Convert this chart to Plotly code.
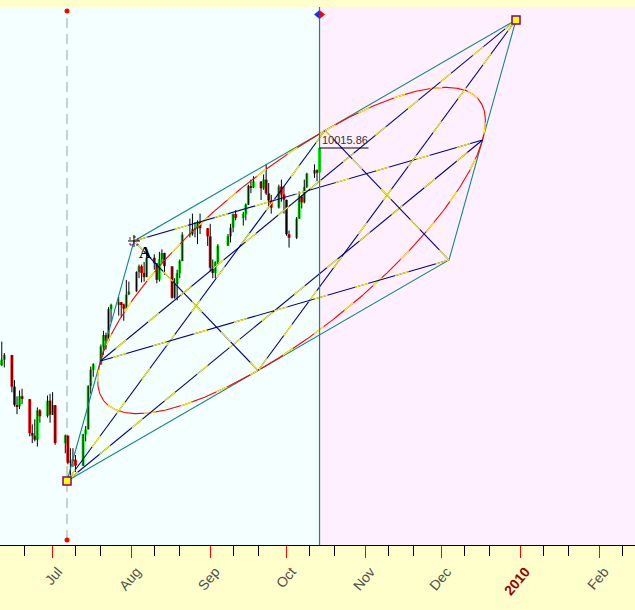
import numpy as np
import pandas as pd
import plotly.graph_objects as go

# ---------------- data (DJIA daily) ----------------
dates = [
    "2009-06-10", "2009-06-11", "2009-06-12", "2009-06-15", "2009-06-16", "2009-06-17", "2009-06-18", "2009-06-19",
    "2009-06-22", "2009-06-23", "2009-06-24", "2009-06-25", "2009-06-26", "2009-06-29", "2009-06-30",
    "2009-07-01", "2009-07-02", "2009-07-06", "2009-07-07", "2009-07-08", "2009-07-09", "2009-07-10",
    "2009-07-13", "2009-07-14", "2009-07-15", "2009-07-16", "2009-07-17", "2009-07-20", "2009-07-21",
    "2009-07-22", "2009-07-23", "2009-07-24", "2009-07-27", "2009-07-28", "2009-07-29", "2009-07-30", "2009-07-31",
    "2009-08-03", "2009-08-04", "2009-08-05", "2009-08-06", "2009-08-07", "2009-08-10", "2009-08-11",
    "2009-08-12", "2009-08-13", "2009-08-14", "2009-08-17", "2009-08-18", "2009-08-19", "2009-08-20",
    "2009-08-21", "2009-08-24", "2009-08-25", "2009-08-26", "2009-08-27", "2009-08-28", "2009-08-31",
    "2009-09-01", "2009-09-02", "2009-09-03", "2009-09-04", "2009-09-08", "2009-09-09", "2009-09-10",
    "2009-09-11", "2009-09-14", "2009-09-15", "2009-09-16", "2009-09-17", "2009-09-18", "2009-09-21",
    "2009-09-22", "2009-09-23", "2009-09-24", "2009-09-25", "2009-09-28", "2009-09-29", "2009-09-30",
    "2009-10-01", "2009-10-02", "2009-10-05", "2009-10-06", "2009-10-07", "2009-10-08", "2009-10-09",
    "2009-10-12", "2009-10-13", "2009-10-14",
]
opens = [
    8763, 8739, 8770, 8798, 8612, 8504, 8497, 8556, 8538, 8339, 8323, 8299, 8472, 8439, 8530,
    8447, 8503, 8280, 8324, 8164, 8179, 8182, 8146, 8331, 8360, 8616, 8711, 8744, 8848, 8915,
    8882, 9068, 9093, 9108, 9096, 9071, 9155,
    9172, 9286, 9320, 9281, 9257, 9370, 9337, 9241, 9362, 9398, 9320, 9135, 9217, 9279, 9350,
    9506, 9509, 9539, 9543, 9581, 9544,
    9496, 9310, 9281, 9345, 9441, 9497, 9548, 9627, 9605, 9626, 9683, 9792, 9784, 9819, 9779,
    9830, 9749, 9707, 9665, 9789, 9742,
    9711, 9508, 9488, 9600, 9730, 9696, 9787, 9865, 9885, 9872,
]
highs = [
    8828, 8877, 8810, 8799, 8650, 8555, 8590, 8600, 8540, 8390, 8420, 8490, 8480, 8560, 8570,
    8580, 8504, 8330, 8325, 8250, 8250, 8210, 8335, 8380, 8620, 8730, 8750, 8860, 8940, 8930,
    9080, 9100, 9140, 9110, 9100, 9240, 9230,
    9290, 9330, 9330, 9345, 9420, 9390, 9340, 9405, 9420, 9400, 9320, 9250, 9300, 9360, 9520,
    9600, 9630, 9580, 9590, 9630, 9545,
    9570, 9360, 9350, 9450, 9510, 9570, 9630, 9650, 9640, 9690, 9800, 9830, 9850, 9820, 9860,
    9920, 9810, 9740, 9800, 9830, 9790,
    9712, 9530, 9610, 9760, 9740, 9830, 9870, 9920, 9890, 10020,
]
lows = [
    8650, 8733, 8725, 8579, 8495, 8450, 8480, 8510, 8320, 8280, 8290, 8260, 8400, 8430, 8400,
    8445, 8270, 8220, 8155, 8087, 8140, 8110, 8145, 8290, 8360, 8570, 8670, 8740, 8800, 8830,
    8880, 8990, 9030, 9020, 9000, 9070, 9150,
    9170, 9250, 9225, 9230, 9255, 9300, 9220, 9230, 9340, 9270, 9130, 9130, 9120, 9250, 9350,
    9490, 9500, 9490, 9450, 9510, 9440,
    9290, 9250, 9250, 9330, 9440, 9460, 9520, 9590, 9560, 9590, 9680, 9750, 9780, 9710, 9770,
    9740, 9670, 9630, 9660, 9700, 9630,
    9500, 9430, 9480, 9600, 9660, 9690, 9780, 9840, 9820, 9870,
]
closes = [
    8739, 8771, 8799, 8612, 8505, 8497, 8556, 8540, 8339, 8323, 8300, 8472, 8438, 8529, 8447,
    8504, 8281, 8325, 8164, 8178, 8183, 8147, 8332, 8359, 8616, 8712, 8744, 8848, 8916, 8881,
    9069, 9093, 9109, 9097, 9071, 9154, 9172,
    9287, 9320, 9281, 9256, 9370, 9338, 9241, 9362, 9398, 9321, 9135, 9218, 9279, 9350, 9506,
    9509, 9539, 9544, 9581, 9544, 9496,
    9311, 9281, 9345, 9441, 9497, 9547, 9627, 9605, 9627, 9683, 9792, 9784, 9820, 9779, 9830,
    9749, 9707, 9665, 9789, 9742, 9712,
    9509, 9488, 9600, 9731, 9696, 9787, 9865, 9886, 9871, 10015.86,
]

# drawing anchors: bottom-left corner, point "A", top-right corner
anchor_names = ["P1", "A", "P3"]
anchor_dates = ["2009-07-06 16:00", "2009-08-02 00:30", "2009-12-30 06:40"]
anchor_prices = [8057, 9469, 10769]

month_ticks = ["2009-07-01", "2009-08-01", "2009-09-01", "2009-10-01",
               "2009-11-01", "2009-12-01", "2010-01-01", "2010-02-01"]
month_labels = ["Jul", "Aug", "Sep", "Oct", "Nov", "Dec",
                "<span style='color:#990000'><b>2010</b></span>", "Feb"]
minor_ticks = ["2009-06-20", "2009-07-10", "2009-07-20", "2009-08-10", "2009-08-20",
               "2009-09-10", "2009-09-20", "2009-10-10", "2009-10-20", "2009-11-10",
               "2009-11-20", "2009-12-10", "2009-12-20", "2010-01-10", "2010-01-20",
               "2010-02-10"]

last_date = "2009-10-14"
last_close = 10015.86
x_range = ["2009-06-10 07:26", "2010-02-15 02:00"]
y_range = [7680.6, 10845.3]

# ---------------- geometry ----------------
W, H = 635, 610
M_T, M_B = 7, 65
plot_h = H - M_T - M_B


def paper_y(py):
    return 1 - (py - M_T) / plot_h


tn = pd.to_datetime(anchor_dates).values.astype("datetime64[ns]").astype(np.int64).astype(float)
pp = np.array(anchor_prices, float)
P1 = np.array([tn[0], pp[0]])
A = np.array([tn[1], pp[1]])
P3 = np.array([tn[2], pp[2]])
P4 = P1 + P3 - A
ML, MT, MR, MB = (P1 + A) / 2, (A + P3) / 2, (P3 + P4) / 2, (P4 + P1) / 2


def to_dt(v):
    return pd.to_datetime(np.round(np.asarray(v, float)).astype(np.int64))


LW = 1.1
fig = go.Figure()

# candles: wicks
wx, wy = [], []
for d, lo, hi in zip(dates, lows, highs):
    wx += [d, d, None]
    wy += [lo, hi, None]
fig.add_trace(go.Scatter(x=wx, y=wy, mode="lines", line=dict(color="black", width=1),
                         hoverinfo="skip"))
# candles: bodies
base = [min(o, c) for o, c in zip(opens, closes)]
hgt = [abs(c - o) for o, c in zip(opens, closes)]
cols = ["#00F000" if c >= o else "#FF0000" for o, c in zip(opens, closes)]
fig.add_trace(go.Bar(x=dates, y=hgt, base=base, marker=dict(color=cols, line=dict(width=0)),
                     width=1.15 * 86400000, hoverinfo="skip"))

# parallelogram edges
edge = np.array([P1, A, P3, P4, P1])
fig.add_trace(go.Scatter(x=to_dt(edge[:, 0]), y=edge[:, 1], mode="lines",
                         line=dict(color="#138585", width=LW), hoverinfo="skip"))

# ellipse
th = np.linspace(0, 2 * np.pi, 721)
C = (P1 + P3) / 2
u = (A - P1) / 2
v = (P4 - P1) / 2
ex = C[0] + u[0] * np.cos(th) + v[0] * np.sin(th)
ey = C[1] + u[1] * np.cos(th) + v[1] * np.sin(th)
fig.add_trace(go.Scatter(x=to_dt(ex), y=ey, mode="lines", line=dict(color="#FF0000", width=LW),
                         hoverinfo="skip"))
fig.add_trace(go.Scatter(x=to_dt(ex), y=ey, mode="lines",
                         line=dict(color="#FFFF00", width=LW, dash="12px,26px"), hoverinfo="skip"))

# internal lines corner -> midpoint
pairs = [(P1, MT), (P1, MR), (A, MR), (A, MB), (P3, ML), (P3, MB), (P4, ML), (P4, MT)]
for a, b in pairs:
    xs = to_dt([a[0], b[0]])
    ys = [a[1], b[1]]
    fig.add_trace(go.Scatter(x=xs, y=ys, mode="lines", line=dict(color="#000080", width=LW),
                             hoverinfo="skip"))
    fig.add_trace(go.Scatter(x=xs, y=ys, mode="lines",
                             line=dict(color="#FFFF00", width=LW, dash="14px,28px"), hoverinfo="skip"))

# anchor squares
fig.add_trace(go.Scatter(x=to_dt([P1[0], P3[0]]), y=[P1[1], P3[1]], mode="markers",
                         marker=dict(symbol="square", size=8, color="#FFFF00",
                                     line=dict(color="#800080", width=1.5)), hoverinfo="skip"))

a_dt = to_dt([A[0]])[0]
p1_dt = to_dt([P1[0]])[0]

shapes = [
    dict(type="rect", xref="x", yref="paper", x0=x_range[0], x1=last_date, y0=0, y1=1,
         fillcolor="#F4FFFF", line=dict(width=0), layer="below"),
    dict(type="rect", xref="x", yref="paper", x0=last_date, x1=x_range[1], y0=0, y1=1,
         fillcolor="#FFF0FF", line=dict(width=0), layer="below"),
    dict(type="line", xref="x", yref="paper", x0=p1_dt, x1=p1_dt, y0=paper_y(540), y1=paper_y(11),
         line=dict(color="#C0C0C0", width=1.5, dash="10px,6px"), layer="below"),
    dict(type="line", xref="x", yref="paper", x0=last_date, x1=last_date, y0=0, y1=1,
         line=dict(color="#1F7F8F", width=1.2)),
    # label underline
    dict(type="line", xref="x", yref="y", xsizemode="pixel", xanchor=last_date, x0=0, x1=49,
         y0=last_close, y1=last_close, line=dict(color="black", width=1)),
    # red dots on dashed line
    dict(type="circle", xref="x", yref="paper", xsizemode="pixel", ysizemode="pixel",
         xanchor=p1_dt, yanchor=paper_y(11), x0=-2.5, x1=2.5, y0=-2.5, y1=2.5,
         fillcolor="#FF0000", line=dict(width=0)),
    dict(type="circle", xref="x", yref="paper", xsizemode="pixel", ysizemode="pixel",
         xanchor=p1_dt, yanchor=paper_y(540), x0=-2.5, x1=2.5, y0=-2.5, y1=2.5,
         fillcolor="#FF0000", line=dict(width=0)),
    # diamond halves
    dict(type="path", xref="x", yref="paper", xsizemode="pixel", ysizemode="pixel",
         xanchor=last_date, yanchor=paper_y(14.5), path="M0,-4.5 L-5.5,0 L0,4.5 Z",
         fillcolor="#1030FF", line=dict(width=0)),
    dict(type="path", xref="x", yref="paper", xsizemode="pixel", ysizemode="pixel",
         xanchor=last_date, yanchor=paper_y(14.5), path="M0,-4.5 L5.5,0 L0,4.5 Z",
         fillcolor="#FF0000", line=dict(width=0)),
    # crosshair at A
    dict(type="rect", xref="x", yref="y", xsizemode="pixel", ysizemode="pixel",
         xanchor=a_dt, yanchor=A[1], x0=-4, x1=4, y0=-4, y1=4,
         line=dict(color="#800080", width=1, dash="dot")),
    dict(type="line", xref="x", yref="y", xsizemode="pixel", ysizemode="pixel",
         xanchor=a_dt, yanchor=A[1], x0=-6, x1=6, y0=0, y1=0, line=dict(color="black", width=1)),
    dict(type="line", xref="x", yref="y", xsizemode="pixel", ysizemode="pixel",
         xanchor=a_dt, yanchor=A[1], x0=0, x1=0, y0=-6, y1=6, line=dict(color="black", width=1)),
]

annotations = [
    dict(x=a_dt, y=A[1], xref="x", yref="y", text="<b>A</b>", showarrow=False,
         xanchor="left", yanchor="top", xshift=3, yshift=0,
         font=dict(family="Liberation Serif", size=17, color="black")),
    dict(x=last_date, y=last_close, xref="x", yref="y", text=f"{last_close:.2f}", showarrow=False,
         xanchor="left", yanchor="bottom", xshift=0, yshift=0,
         font=dict(family="Liberation Sans", size=11, color="#333333")),
]

fig.update_layout(
    width=W, height=H,
    margin=dict(l=0, r=0, t=M_T, b=M_B, pad=0),
    paper_bgcolor="#FFFFCC", plot_bgcolor="#F4FFFF",
    showlegend=False, barmode="overlay",
    shapes=shapes, annotations=annotations,
    xaxis=dict(type="date", range=x_range, showgrid=False, zeroline=False,
               showline=True, linecolor="black", linewidth=1,
               ticks="outside", ticklen=12, tickcolor="#FF0000", tickwidth=1,
               tickmode="array", tickvals=month_ticks, ticktext=month_labels,
               tickangle=-50, ticklabelshift=5,
               tickfont=dict(family="Liberation Sans", size=14, color="#505050"),
               minor=dict(tickmode="array", tickvals=minor_ticks, ticks="outside",
                          ticklen=10, tickcolor="black", tickwidth=1, showgrid=False),
               fixedrange=True),
    yaxis=dict(range=y_range, visible=False, showgrid=False, zeroline=False, fixedrange=True),
)

fig.write_html("out.html", config={"displayModeBar": False},
               post_script="document.body.style.margin='0';document.body.style.overflow='hidden';")
